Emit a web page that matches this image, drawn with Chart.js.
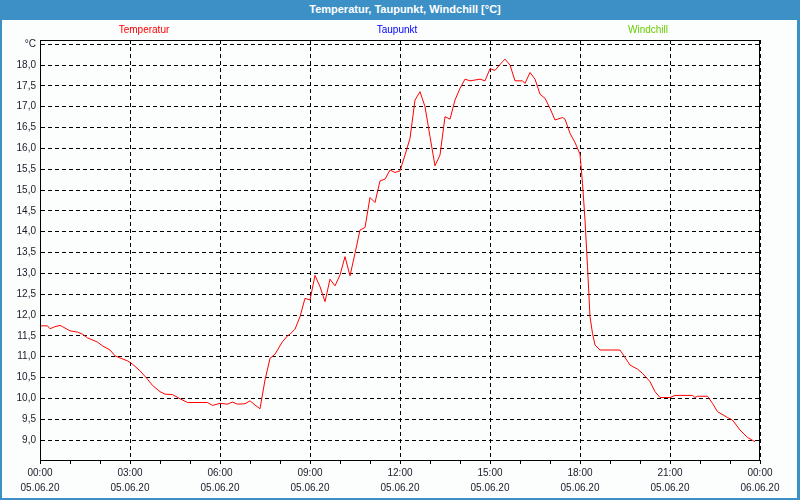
<!DOCTYPE html>
<html lang="de">
<head>
    <meta charset="UTF-8">
    <title>Temperatur, Taupunkt, Windchill</title>
    <style>
        body{ margin:0; background:#fff; }
        #frame{
            position:relative;
            width:800px;
            height:500px;
            background:#fcfefd;
            font-family:"Liberation Sans", Arial, sans-serif;
            overflow:hidden;
        }
        #titlebar{
            position:absolute; left:0; top:0; width:800px; height:20px;
            background:#3c90c6; color:#fff;
            font-weight:bold; font-size:11px; line-height:19px;
            text-align:center; text-indent:10px;
        }
        .name{
            position:absolute; top:24px; font-size:10px; line-height:12px;
            transform:translateX(-50%); white-space:nowrap;
        }
        #edge{
            position:absolute; left:0; top:0; width:800px; height:500px; box-sizing:border-box;
            border-left:2px solid #3c90c6; border-right:3px solid #3c90c6; border-bottom:2px solid #3c90c6;
            pointer-events:none;
        }
        canvas{ position:absolute; left:0; top:0; }
    </style>
</head>
<body>
<div id="frame">
    <canvas id="myc" width="800" height="500"></canvas>
    <div id="titlebar">Temperatur, Taupunkt, Windchill [°C]</div>
    <div id="names"></div>
    <div id="edge"></div>
</div>

<script src="https://cdn.jsdelivr.net/npm/chart.js"></script>
<script>
    // series names shown above the plot
    var seriesNames = ['Temperatur', 'Taupunkt', 'Windchill'];
    var seriesColors = ['#ff0000', '#0000ff', '#66cc00'];
    var namePos = [144, 397, 648];

    // temperature readings, 05.06.20
    var times = ['00:00','00:15','00:20','00:30','00:40','00:45','01:00','01:15','01:25','01:35',
                 '01:55','02:05','02:20','02:30','02:40','02:55','03:05','03:20','03:35','03:45',
                 '04:00','04:10','04:25','04:40','04:55','05:35','05:45','06:00','06:15','06:25',
                 '06:35','06:50','07:00','07:10','07:20','07:30','07:40','07:50','08:05','08:15',
                 '08:20','08:30','08:40','08:50','09:00','09:10','09:20','09:30','09:40','09:50',
                 '10:00','10:10','10:20','10:30','10:40','10:50','11:00','11:10','11:20','11:30',
                 '11:40','11:50','12:00','12:10','12:20','12:30','12:40','12:50','13:00','13:10',
                 '13:20','13:30','13:40','13:50','14:00','14:10','14:20','14:30','14:40','14:50',
                 '15:00','15:10','15:25','15:30','15:40','15:50','16:05','16:10','16:20','16:30',
                 '16:40','16:50','17:00','17:10','17:25','17:30','17:40','17:50','18:00','18:05',
                 '18:10','18:15','18:20','18:25','18:30','18:40','19:20','19:40','19:55','20:05',
                 '20:20','20:30','20:40','21:00','21:10','21:45','21:50','21:55','22:15','22:25',
                 '22:35','22:55','23:05','23:20','23:35','23:50'];
    var temps = [11.74,11.74,11.67,11.72,11.75,11.72,11.62,11.59,11.54,11.45,
                 11.35,11.26,11.16,11.02,10.97,10.90,10.82,10.66,10.46,10.31,
                 10.16,10.10,10.09,9.99,9.90,9.90,9.83,9.88,9.86,9.91,
                 9.86,9.87,9.94,9.84,9.75,10.44,10.96,11.06,11.36,11.50,
                 11.54,11.66,11.96,12.40,12.36,12.95,12.68,12.32,12.86,12.70,
                 12.96,13.40,12.94,13.48,14.04,14.10,14.82,14.70,15.22,15.26,
                 15.48,15.42,15.46,15.84,16.24,17.16,17.36,17.00,16.28,15.58,
                 15.84,16.76,16.70,17.16,17.44,17.66,17.62,17.64,17.66,17.62,
                 17.91,17.87,18.08,18.14,18.00,17.62,17.62,17.56,17.82,17.66,
                 17.30,17.20,16.96,16.68,16.74,16.70,16.36,16.14,15.86,15.16,
                 14.28,13.16,11.96,11.56,11.28,11.16,11.16,10.80,10.70,10.60,
                 10.40,10.16,10.02,10.02,10.07,10.07,10.02,10.05,10.05,9.88,
                 9.68,9.54,9.48,9.24,9.06,8.96];

    // axis ticks
    var xTickHours = [0, 3, 6, 9, 12, 15, 18, 21, 24];
    var xTickTimes = ['00:00','03:00','06:00','09:00','12:00','15:00','18:00','21:00','00:00'];
    var xTickDates = ['05.06.20','05.06.20','05.06.20','05.06.20','05.06.20','05.06.20','05.06.20','05.06.20','06.06.20'];
    var yTickValues = [9.0,9.5,10.0,10.5,11.0,11.5,12.0,12.5,13.0,13.5,14.0,14.5,15.0,15.5,16.0,16.5,17.0,17.5,18.0,18.5];
    var yTickLabels = ['9,0','9,5','10,0','10,5','11,0','11,5','12,0','12,5','13,0','13,5','14,0','14,5','15,0','15,5','16,0','16,5','17,0','17,5','18,0','°C'];

    // names above plot
    var namesDiv = document.getElementById('names');
    for (var i = 0; i < seriesNames.length; i++) {
        var s = document.createElement('span');
        s.className = 'name';
        s.textContent = seriesNames[i];
        s.style.color = seriesColors[i];
        s.style.left = namePos[i] + 'px';
        namesDiv.appendChild(s);
    }

    function toHours(t) {
        var p = t.split(':');
        return parseInt(p[0], 10) + parseInt(p[1], 10) / 60;
    }
    var points = times.map(function (t, i) { return {x: toHours(t), y: temps[i]}; });

    // solid frame round the plot area
    var frameBox = {
        id: 'frameBox',
        afterDraw: function (chart) {
            var a = chart.chartArea, ctx = chart.ctx;
            ctx.save();
            ctx.strokeStyle = '#000';
            ctx.lineWidth = 1;
            ctx.strokeRect(a.left + 0.5, a.top + 0.5, a.right - a.left - 1, a.bottom - a.top);
            ctx.restore();
        }
    };

    var tickFont = {family: '"Liberation Sans", Arial, sans-serif', size: 10, lineHeight: 1.5};

    const ctx = document.getElementById('myc').getContext('2d');
    const myChart = new Chart(ctx, {
        type: 'line',
        data: {
            datasets: [{
                label: seriesNames[0],
                data: points,
                borderColor: seriesColors[0],
                borderWidth: 1,
                pointRadius: 0,
                tension: 0,
                fill: false
            }]
        },
        options: {
            responsive: false,
            animation: false,
            devicePixelRatio: 1,
            layout: {padding: {left: 0, top: 40, right: 40, bottom: 0}},
            plugins: {
                legend: {display: false},
                tooltip: {enabled: false}
            },
            scales: {
                x: {
                    type: 'linear',
                    min: 0,
                    max: 24,
                    afterFit: function (scale) { scale.height = 40; },
                    ticks: {
                        stepSize: 1,
                        autoSkip: false,
                        maxRotation: 0,
                        padding: 2,
                        color: '#1a1a28',
                        font: tickFont,
                        callback: function (v) {
                            var k = xTickHours.indexOf(v);
                            return k < 0 ? '' : [xTickTimes[k], xTickDates[k]];
                        }
                    },
                    grid: {
                        color: function (c) {
                            return (c.tick && xTickHours.indexOf(c.tick.value) >= 0) ? '#000' : 'rgba(0,0,0,0)';
                        },
                        tickColor: '#000',
                        tickLength: 4,
                        lineWidth: 1
                    },
                    border: {display: true, color: '#000', width: 1, dash: [4, 3]}
                },
                y: {
                    min: 8.52,
                    max: 18.6,
                    afterFit: function (scale) { scale.width = 40; },
                    afterBuildTicks: function (scale) {
                        scale.ticks = yTickValues.map(function (v) { return {value: v}; });
                    },
                    ticks: {
                        padding: 4,
                        color: '#1a1a28',
                        font: {family: '"Liberation Sans", Arial, sans-serif', size: 10},
                        callback: function (v) {
                            var k = yTickValues.indexOf(v);
                            return k < 0 ? '' : yTickLabels[k];
                        }
                    },
                    grid: {color: '#000', drawTicks: false, lineWidth: 1},
                    border: {display: true, color: '#000', width: 1, dash: [4, 3]}
                }
            }
        },
        plugins: [frameBox]
    });
</script>
</body>
</html>
